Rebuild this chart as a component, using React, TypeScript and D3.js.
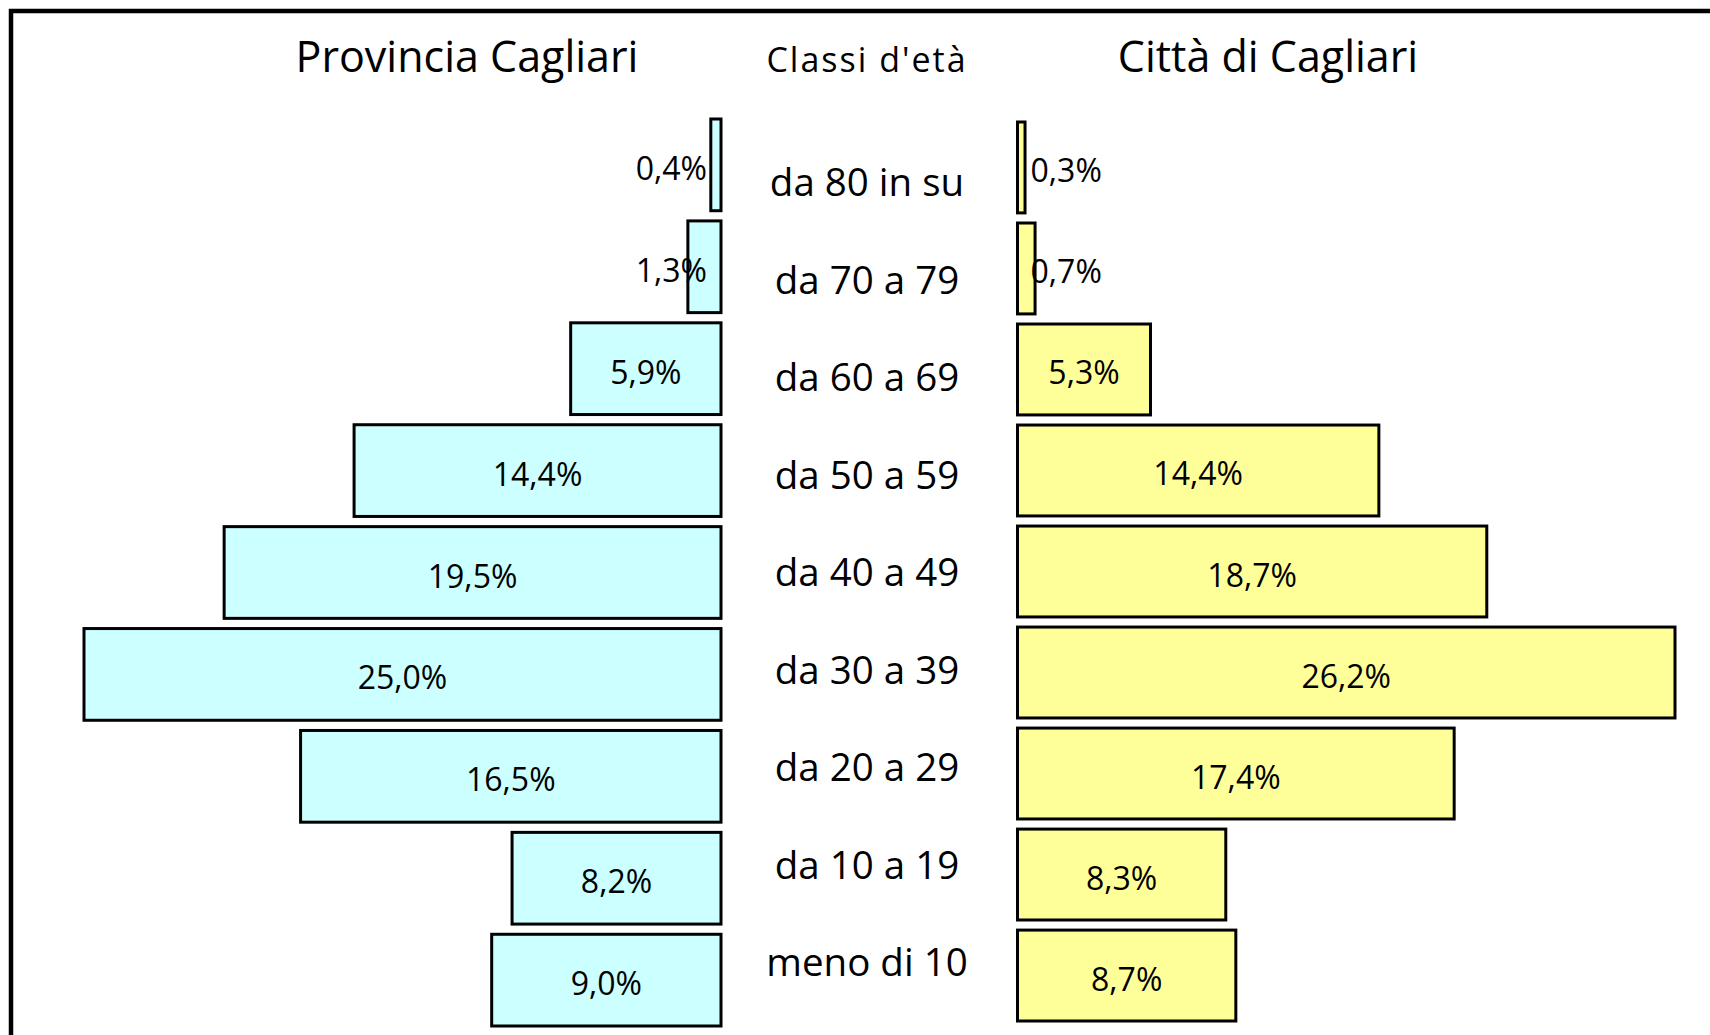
import React from 'react';
import * as d3 from 'd3';

// age classes, from oldest (top) to youngest (bottom)
const classes = [
  'da 80 in su',
  'da 70 a 79',
  'da 60 a 69',
  'da 50 a 59',
  'da 40 a 49',
  'da 30 a 39',
  'da 20 a 29',
  'da 10 a 19',
  'meno di 10',
];

const provincia = [0.4, 1.3, 5.9, 14.4, 19.5, 25.0, 16.5, 8.2, 9.0];
const citta = [0.3, 0.7, 5.3, 14.4, 18.7, 26.2, 17.4, 8.3, 8.7];

const titleLeft = 'Provincia Cagliari';
const titleCenter = "Classi d'età";
const titleRight = 'Città di Cagliari';

const W = 1710;
const H = 1035;
const FONT = "'Open Sans', 'Noto Sans', sans-serif";

const fmt = (v: number) => v.toFixed(1).replace('.', ',') + '%';

const App: React.FC = () => {
  const xLeft = d3.scaleLinear().domain([0, 25]).range([721, 84]);
  const xRight = d3.scaleLinear().domain([0, 26.2]).range([1017.5, 1675]);

  const yLeft = d3.scaleBand<string>().domain(classes).range([119, 1026]).paddingInner(0.1).paddingOuter(0);
  const yRight = d3.scaleBand<string>().domain(classes).range([122, 1021]).paddingInner(0.1).paddingOuter(0);
  const yLabel = d3.scalePoint<string>().domain(classes).range([196, 976]);

  const centerX = 867;

  return (
    <svg width={W} height={H} style={{ position: 'absolute', left: 0, top: 0, background: '#fff' }} fontFamily={FONT}>
      <rect x={0} y={0} width={W} height={H} fill="#fff" />
      {/* frame, only top and left edges inside the picture */}
      <rect x={11} y={11} width={W + 20} height={H + 20} fill="none" stroke="#000" strokeWidth={4.5} />

      <text x={467} y={72} textAnchor="middle" fontSize={43} fill="#000">{titleLeft}</text>
      <text x={centerX} y={72} textAnchor="middle" fontSize={34} letterSpacing={2} fill="#000">{titleCenter}</text>
      <text x={1268} y={72} textAnchor="middle" fontSize={43} fill="#000">{titleRight}</text>

      {classes.map((c, i) => {
        const v = provincia[i];
        const y = yLeft(c)!;
        const h = yLeft.bandwidth();
        const x0 = xLeft(0);
        const x1 = xLeft(v);
        const small = v < 2;
        return (
          <g key={'l' + c}>
            <rect x={x1} y={y} width={x0 - x1} height={h} fill="#CCFFFF" stroke="#000" strokeWidth={3} />
            <text
              x={small ? x0 - 14 : (x0 + x1) / 2}
              y={y + h / 2 + 15}
              textAnchor={small ? 'end' : 'middle'}
              fontSize={32}
              fill="#000"
            >
              {fmt(v)}
            </text>
          </g>
        );
      })}

      {classes.map((c, i) => {
        const v = citta[i];
        const y = yRight(c)!;
        const h = yRight.bandwidth();
        const x0 = xRight(0);
        const x1 = xRight(v);
        const small = v < 2;
        return (
          <g key={'r' + c}>
            <rect x={x0} y={y} width={x1 - x0} height={h} fill="#FFFF99" stroke="#000" strokeWidth={3} />
            <text
              x={small ? x0 + 13 : (x0 + x1) / 2}
              y={y + h / 2 + 15}
              textAnchor={small ? 'start' : 'middle'}
              fontSize={32}
              fill="#000"
            >
              {fmt(v)}
            </text>
          </g>
        );
      })}

      {classes.map((c) => (
        <text key={'c' + c} x={centerX} y={yLabel(c)!} textAnchor="middle" fontSize={38.5} fill="#000">
          {c}
        </text>
      ))}
    </svg>
  );
};

export default App;
